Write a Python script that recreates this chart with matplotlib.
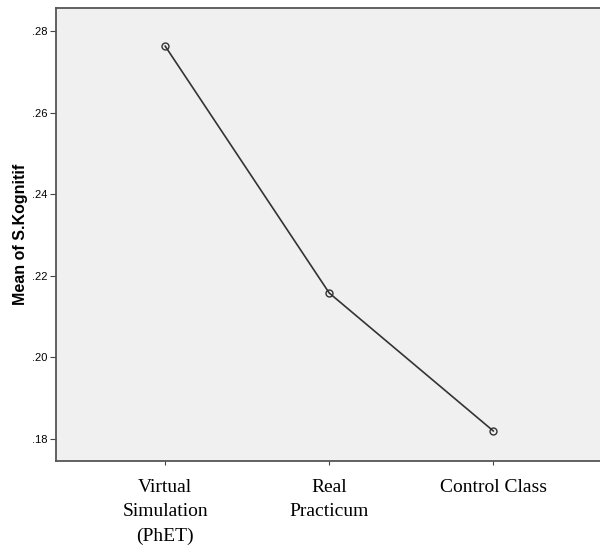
import matplotlib
matplotlib.use("Agg")
import matplotlib.pyplot as plt
from matplotlib.ticker import FuncFormatter

groups = ["Virtual\nSimulation\n(PhET)", "Real\nPracticum", "Control Class"]
means = [0.2763, 0.2158, 0.1820]
y_ticks = [0.18, 0.20, 0.22, 0.24, 0.26, 0.28]

fig = plt.figure(figsize=(6.0, 5.47), dpi=100)
ax = fig.add_axes([0.093, 0.157, 0.915, 0.828])
ax.set_facecolor("#f0f0f0")

x = list(range(len(groups)))
ax.plot(x, means, color="#333333", linewidth=1.2, marker="o", markersize=5,
        markerfacecolor="none", markeredgecolor="#333333", markeredgewidth=1.0)

ax.set_xlim(-0.667, 2.68)
ax.set_ylim(0.1746, 0.2856)
ax.set_yticks(y_ticks)
ax.yaxis.set_major_formatter(FuncFormatter(lambda v, p: ("%.2f" % v)[1:]))
ax.set_xticks(x)
ax.set_xticklabels(groups, fontfamily="Liberation Serif", fontsize=14, linespacing=1.55)
ax.tick_params(axis="y", labelsize=8, length=4, color="#444444", pad=2)
ax.tick_params(axis="x", length=3, color="#444444", pad=10)
for lbl in ax.get_yticklabels():
    lbl.set_fontfamily("Liberation Sans")

ax.set_ylabel("Mean of S.Kognitif", fontfamily="Liberation Sans", fontweight="bold",
              fontsize=11.5, labelpad=3)

for side in ["left", "bottom", "top"]:
    ax.spines[side].set_color("#555555")
    ax.spines[side].set_linewidth(1.3)
ax.spines["right"].set_visible(False)

fig.savefig("out.png", dpi=100, facecolor="white")
